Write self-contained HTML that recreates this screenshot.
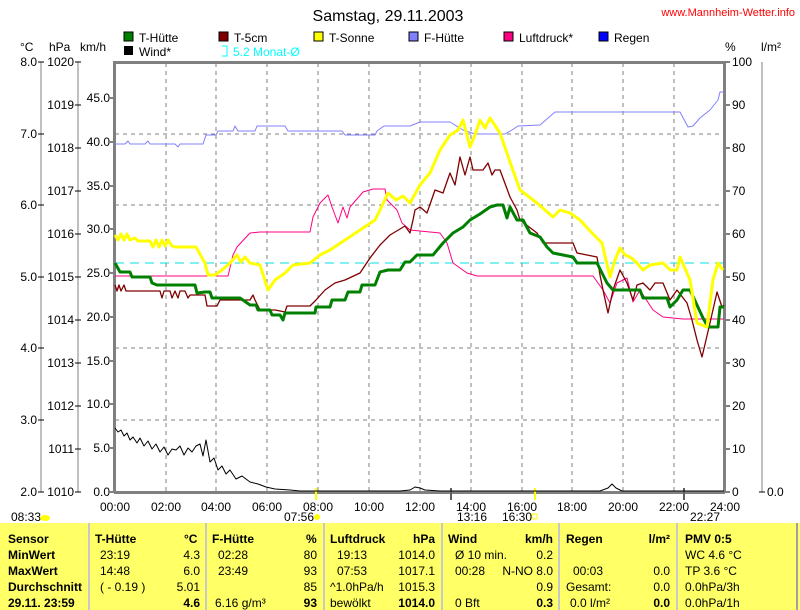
<!DOCTYPE html>
<html><head><meta charset="utf-8"><style>
body{margin:0;background:#fff;width:800px;height:610px;overflow:hidden;font-family:"Liberation Sans",sans-serif}
svg{position:absolute;left:0;top:0}
.tb{position:absolute;top:523px;height:87px;background:#ffff66;font-size:12px;color:#000}
.tb div{position:absolute;white-space:nowrap}
.b{font-weight:bold}
.r{text-align:right}
</style></head><body>
<svg width="800" height="523" font-family="Liberation Sans, sans-serif" font-size="12">
<text x="388" y="21" font-size="16" text-anchor="middle">Samstag, 29.11.2003</text>
<text x="795" y="16" font-size="11" fill="#f00" text-anchor="end">www.Mannheim-Wetter.info</text>
<!-- legend -->
<g font-size="12">
<rect x="124" y="32" width="9" height="9" fill="#008000" stroke="#000"/><text x="139" y="42">T-Hütte</text>
<rect x="219" y="32" width="9" height="9" fill="#800000" stroke="#000"/><text x="234" y="42">T-5cm</text>
<rect x="314" y="32" width="9" height="9" fill="#ffff00" stroke="#000"/><text x="329" y="42">T-Sonne</text>
<rect x="409" y="32" width="9" height="9" fill="#8080ff" stroke="#000"/><text x="424" y="42">F-Hütte</text>
<rect x="504" y="32" width="9" height="9" fill="#ff0080" stroke="#000"/><text x="519" y="42">Luftdruck*</text>
<rect x="599" y="32" width="9" height="9" fill="#0000ff" stroke="#000"/><text x="614" y="42">Regen</text>
<rect x="124" y="46" width="9" height="9" fill="#000"/><text x="139" y="56">Wind*</text>
<path d="M222 46h5v10h-5" fill="none" stroke="#00ffff"/><text x="233" y="56" fill="#00ffff">5.2 Monat-Ø</text>
</g>
<!-- axis titles -->
<text x="20" y="51">°C</text><text x="49" y="51">hPa</text><text x="80" y="51">km/h</text>
<text x="725" y="51">%</text><text x="761" y="51">l/m²</text>
<!-- left axes -->
<g stroke="#808080" fill="none">
<line x1="41" y1="62" x2="41" y2="492"/><line x1="78" y1="62" x2="78" y2="492"/>
<line x1="762" y1="62" x2="762" y2="492"/>
</g>
<g stroke="#000">
<path d="M38 62h6M38 134h6M38 205h6M38 277h6M38 348h6M38 420h6M38 492h6"/>
<path d="M75 62h6M75 105h6M75 148h6M75 191h6M75 234h6M75 277h6M75 320h6M75 363h6M75 406h6M75 449h6M75 492h6"/>
<path d="M110 98h4M110 142h4M110 186h4M110 229h4M110 273h4M110 317h4M110 361h4M110 404h4M110 448h4M110 492h4"/>
<path d="M725 62h5M725 105h5M725 148h5M725 191h5M725 234h5M725 277h5M725 320h5M725 363h5M725 406h5M725 449h5M725 492h5"/>
<path d="M759 492h6"/>
</g>
<g text-anchor="end">
<text x="37" y="66">8.0</text><text x="37" y="138">7.0</text><text x="37" y="209">6.0</text><text x="37" y="281">5.0</text><text x="37" y="352">4.0</text><text x="37" y="424">3.0</text><text x="37" y="496">2.0</text>
<text x="74" y="66">1020</text><text x="74" y="109">1019</text><text x="74" y="152">1018</text><text x="74" y="195">1017</text><text x="74" y="238">1016</text><text x="74" y="281">1015</text><text x="74" y="324">1014</text><text x="74" y="367">1013</text><text x="74" y="410">1012</text><text x="74" y="453">1011</text><text x="74" y="496">1010</text>
<text x="110" y="102">45.0</text><text x="110" y="146">40.0</text><text x="110" y="190">35.0</text><text x="110" y="233">30.0</text><text x="110" y="277">25.0</text><text x="110" y="321">20.0</text><text x="110" y="365">15.0</text><text x="110" y="408">10.0</text><text x="110" y="452">5.0</text><text x="110" y="496">0.0</text>
</g>
<g>
<text x="732" y="66">100</text><text x="732" y="109">90</text><text x="732" y="152">80</text><text x="732" y="195">70</text><text x="732" y="238">60</text><text x="732" y="281">50</text><text x="732" y="324">40</text><text x="732" y="367">30</text><text x="732" y="410">20</text><text x="732" y="453">10</text><text x="732" y="496">0</text>
<text x="767" y="496">0.0</text>
</g>
<!-- grid -->
<g stroke="#808080" stroke-dasharray="4,4" fill="none">
<path d="M166 63V492M216 63V492M267 63V492M318 63V492M369 63V492M420 63V492M471 63V492M522 63V492M572 63V492M623 63V492M674 63V492"/>
<path d="M115 134H724M115 205H724M115 348H724M115 420H724"/>
</g>
<line x1="115" y1="263" x2="724" y2="263" stroke="#00e0e0" stroke-dasharray="9,6"/>
<!-- frame -->
<path d="M114.5 492V62.5H724.5V492" fill="none" stroke="#808080" stroke-width="3"/>
<line x1="114" y1="492.5" x2="725" y2="492.5" stroke="#808080" stroke-width="3"/>
<!-- x ticks/labels -->
<g text-anchor="middle">
<text x="115" y="511">00:00</text><text x="166" y="511">02:00</text><text x="216" y="511">04:00</text><text x="267" y="511">06:00</text><text x="318" y="511">08:00</text><text x="369" y="511">10:00</text><text x="420" y="511">12:00</text><text x="471" y="511">14:00</text><text x="522" y="511">16:00</text><text x="572" y="511">18:00</text><text x="623" y="511">20:00</text><text x="674" y="511">22:00</text><text x="725" y="511">24:00</text>
</g>
<text x="11" y="521">08:33</text><ellipse cx="45" cy="518" rx="5" ry="3" fill="#ffff00"/>
<text x="284" y="521">07:56</text><circle cx="317" cy="517" r="3" fill="#ffff00"/>
<text x="457" y="521">13:16</text><text x="502" y="521">16:30</text><rect x="532" y="514" width="5" height="5" fill="none" stroke="#ffff00"/>
<text x="690" y="521">22:27</text>
<path d="M316 488V500M535 488V500" stroke="#ffff00" stroke-width="2"/>
<path d="M451 488V500M684 488V500" stroke="#606060" stroke-width="2"/>
<!-- series -->
<g fill="none" stroke-linejoin="round">
<polyline stroke="#8080ff" points="115,144 125,144 128,141 130,144 145,144 148,141 150,144 175,144 178,147 180,144 203,144 206,135 216,135 218,131 233,131 235,126 238,131 255,131 257,126 285,126 288,131 342,131 345,135 375,135 377,131 384,126 410,126 420,122 450,122 463,130 475,134 505,134 512,130 518,126 540,125 555,112 650,112 680,112 688,127 693,126 700,118 710,110 718,100 720,92 724,92"/>
<polyline stroke="#ff0080" points="115,276 228,276 233,255 237,247 250,233 260,232 310,232 313,217 320,203 328,195 332,207 338,223 343,207 347,218 350,207 363,192 373,189 385,189 387,200 397,210 402,223 410,230 440,233 447,243 453,263 467,273 477,276 593,276 603,290 610,303 617,283 627,278 633,302 640,290 653,310 663,317 683,319 724,319"/>
<polyline stroke="#000" points="115,428 118,432 121,430 124,436 127,433 130,440 133,437 137,443 140,438 144,446 148,441 152,449 156,444 160,452 164,447 168,455 172,449 176,450 180,446 184,455 188,448 192,452 196,446 200,444 203,456 206,440 210,462 214,458 218,470 222,466 226,474 230,470 236,479 242,476 250,482 258,484 266,487 275,489 290,490 300,491 316,491 400,491 410,490 415,487 420,488 425,490 440,491 600,491 608,488 612,484 616,488 622,491 724,491"/>
<polyline stroke="#800000" stroke-width="1.3" points="115,285 117,291 119,285 121,291 124,285 126,291 160,291 162,298 164,291 170,291 172,298 175,291 178,298 180,291 185,291 188,298 190,295 205,295 207,306 217,306 220,300 250,300 253,295 255,300 260,310 275,310 285,312 287,306 310,306 316,300 325,290 335,283 345,280 360,273 370,258 380,245 390,235 405,226 410,233 413,220 415,210 420,207 427,213 435,190 443,193 450,173 455,185 460,157 465,175 470,157 473,170 483,170 488,163 492,175 495,170 500,170 510,197 517,210 520,220 537,233 543,243 560,243 573,243 577,253 597,257 600,275 603,290 608,313 613,290 620,270 627,283 633,300 637,285 643,283 650,290 655,283 663,283 670,300 677,290 687,303 692,320 697,340 702,357 706,340 710,323 717,292 722,307 724,305"/>
<polyline stroke="#008000" stroke-width="3" points="115,263 120,272 130,272 132,277 150,277 152,283 157,285 195,285 197,293 205,292 210,292 212,298 240,298 250,305 256,305 258,310 270,310 272,315 280,315 283,320 285,313 315,313 316,307 330,307 332,300 345,300 348,292 360,292 362,285 375,285 380,272 388,270 400,270 405,262 410,262 417,255 433,255 443,243 453,233 463,227 470,220 480,214 490,207 497,205 503,205 507,218 510,207 517,220 523,220 530,233 540,237 547,247 553,253 573,257 577,263 597,263 607,283 613,290 640,290 643,298 667,298 670,307 677,300 683,290 690,290 703,318 708,327 718,327 720,307 724,307"/>
<polyline stroke="#ffff00" stroke-width="3" points="115,235 118,240 121,234 124,240 127,234 130,240 135,238 138,241 150,241 153,247 156,240 159,247 162,240 165,246 168,240 172,246 175,247 196,247 205,263 208,275 215,275 222,270 230,263 237,255 241,262 245,257 250,263 260,265 268,290 275,280 285,273 293,265 310,263 320,255 330,250 345,240 360,230 375,220 380,210 388,193 396,200 403,196 410,203 420,185 430,173 440,150 450,135 458,130 463,120 470,147 475,135 480,120 485,128 490,118 500,133 510,162 520,190 537,203 553,217 560,210 570,213 580,220 592,233 602,243 610,277 615,260 620,248 625,255 630,257 636,262 643,270 650,265 663,263 670,270 677,270 680,257 690,280 697,323 707,327 713,280 718,263 723,270"/>
</g>
</svg>
<div class="tb" style="left:0;width:796px">
<div style="left:88px;top:0;width:2px;height:87px;background:#c8c8c8"></div>
<div style="left:205px;top:0;width:2px;height:87px;background:#c8c8c8"></div>
<div style="left:323px;top:0;width:2px;height:87px;background:#c8c8c8"></div>
<div style="left:441px;top:0;width:2px;height:87px;background:#c8c8c8"></div>
<div style="left:558px;top:0;width:2px;height:87px;background:#c8c8c8"></div>
<div style="left:676px;top:0;width:2px;height:87px;background:#c8c8c8"></div>
<div class="b" style="left:8px;top:9px">Sensor</div>
<div class="b" style="left:8px;top:25px">MinWert</div>
<div class="b" style="left:8px;top:41px">MaxWert</div>
<div class="b" style="left:8px;top:57px">Durchschnitt</div>
<div class="b" style="left:8px;top:73px">29.11. 23:59</div>

<div class="b" style="left:95px;top:9px">T-Hütte</div><div class="b" style="left:184px;top:9px">°C</div>
<div style="left:100px;top:25px">23:19</div><div style="left:170px;top:25px;width:30px;text-align:right">4.3</div>
<div style="left:100px;top:41px">14:48</div><div style="left:170px;top:41px;width:30px;text-align:right">6.0</div>
<div style="left:100px;top:57px">( - 0.19 )</div><div style="left:170px;top:57px;width:30px;text-align:right">5.01</div>
<div class="b" style="left:170px;top:73px;width:30px;text-align:right">4.6</div>

<div class="b" style="left:212px;top:9px">F-Hütte</div><div class="b" style="left:306px;top:9px">%</div>
<div style="left:218px;top:25px">02:28</div><div style="left:290px;top:25px;width:27px;text-align:right">80</div>
<div style="left:218px;top:41px">23:49</div><div style="left:290px;top:41px;width:27px;text-align:right">93</div>
<div style="left:290px;top:57px;width:27px;text-align:right">85</div>
<div style="left:215px;top:73px">6.16 g/m³</div><div class="b" style="left:290px;top:73px;width:27px;text-align:right">93</div>

<div class="b" style="left:330px;top:9px">Luftdruck</div><div class="b" style="left:400px;top:9px;width:35px;text-align:right">hPa</div>
<div style="left:337px;top:25px">19:13</div><div style="left:395px;top:25px;width:40px;text-align:right">1014.0</div>
<div style="left:337px;top:41px">07:53</div><div style="left:395px;top:41px;width:40px;text-align:right">1017.1</div>
<div style="left:330px;top:57px">^1.0hPa/h</div><div style="left:395px;top:57px;width:40px;text-align:right">1015.3</div>
<div style="left:330px;top:73px">bewölkt</div><div class="b" style="left:390px;top:73px;width:45px;text-align:right">1014.0</div>

<div class="b" style="left:448px;top:9px">Wind</div><div class="b" style="left:505px;top:9px;width:48px;text-align:right">km/h</div>
<div style="left:455px;top:25px">Ø 10 min.</div><div style="left:505px;top:25px;width:48px;text-align:right">0.2</div>
<div style="left:455px;top:41px">00:28</div><div style="left:495px;top:41px;width:58px;text-align:right">N-NO 8.0</div>
<div style="left:505px;top:57px;width:48px;text-align:right">0.9</div>
<div style="left:455px;top:73px">0 Bft</div><div class="b" style="left:505px;top:73px;width:48px;text-align:right">0.3</div>

<div class="b" style="left:566px;top:9px">Regen</div><div class="b" style="left:630px;top:9px;width:40px;text-align:right">l/m²</div>
<div style="left:573px;top:41px">00:03</div><div style="left:630px;top:41px;width:40px;text-align:right">0.0</div>
<div style="left:566px;top:57px">Gesamt:</div><div style="left:630px;top:57px;width:40px;text-align:right">0.0</div>
<div style="left:570px;top:73px">0.0 l/m²</div><div class="b" style="left:630px;top:73px;width:40px;text-align:right">0.0</div>

<div class="b" style="left:685px;top:9px">PMV 0:5</div>
<div style="left:685px;top:25px">WC 4.6 °C</div>
<div style="left:685px;top:41px">TP 3.6 °C</div>
<div style="left:685px;top:57px">0.0hPa/3h</div>
<div style="left:685px;top:73px">0.0hPa/1h</div>
</div>
<div class="tb" style="left:796px;width:2px;background:#a0a0a0"></div>
<div class="tb" style="left:798px;width:2px"></div>
</body></html>
